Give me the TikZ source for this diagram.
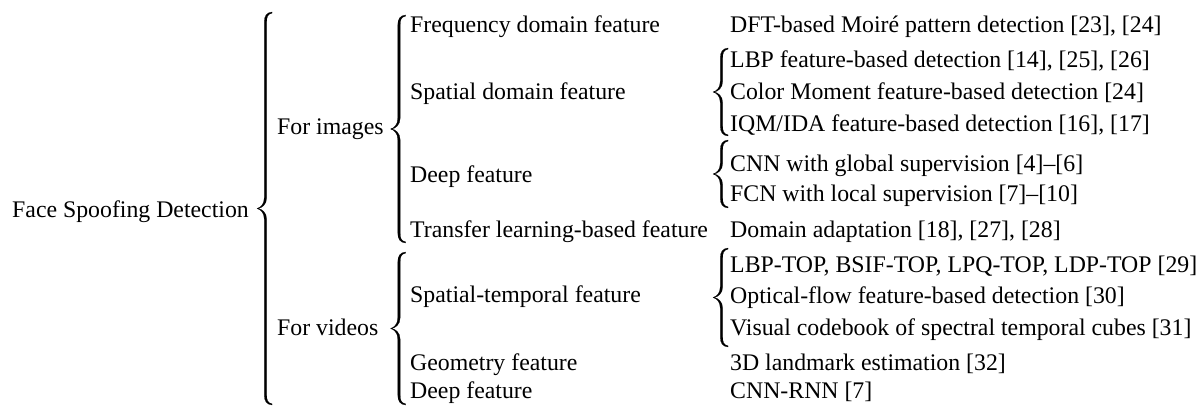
\documentclass[tikz,border=0pt]{standalone}
\usepackage{fontspec}
\setmainfont{Liberation Serif}
\tikzset{
  lbl/.style={anchor=base west, inner sep=0pt, font=\fontsize{23.8}{28}\selectfont},
  brcfill/.style={fill=black, draw=black, line width=0.2pt}
}
% TeX-like curly brace opening to the right; #1 = x of straight part, #2 = top y, #3 = bottom y
\newcommand\texbrace[3]{%
  \pgfmathsetmacro\bxm{#1}\pgfmathsetmacro\byt{#2}\pgfmathsetmacro\byb{#3}%
  \pgfmathsetmacro\bym{(#2+#3)/2}%
  \path[brcfill] (\bxm+6.5,\byt) .. controls (\bxm+1,\byt+0.5) and (\bxm-1.2,\byt+4) .. (\bxm-1.2,\byt+10)
    -- (\bxm-1.2,\bym-11) .. controls (\bxm-1.2,\bym-4) and (\bxm-5,\bym-1) .. (\bxm-8.5,\bym)
    .. controls (\bxm-5,\bym+1) and (\bxm-1.2,\bym+4) .. (\bxm-1.2,\bym+11)
    -- (\bxm-1.2,\byb-10) .. controls (\bxm-1.2,\byb-4) and (\bxm+1,\byb-0.5) .. (\bxm+6.5,\byb)
    -- (\bxm+6.5,\byb-1.2) .. controls (\bxm+2,\byb-2) and (\bxm+1.2,\byb-5) .. (\bxm+1.2,\byb-10)
    -- (\bxm+1.2,\bym+11) .. controls (\bxm+1.2,\bym+4) and (\bxm-3.5,\bym+0.5) .. (\bxm-7.5,\bym)
    .. controls (\bxm-3.5,\bym-0.5) and (\bxm+1.2,\bym-4) .. (\bxm+1.2,\bym-11)
    -- (\bxm+1.2,\byt+10) .. controls (\bxm+1.2,\byt+5) and (\bxm+2,\byt+2) .. (\bxm+6.5,\byt+1.2) -- cycle;%
}
\begin{document}
\begin{tikzpicture}[x=1pt,y=-1pt]
\useasboundingbox (0,0) rectangle (1202,406);
% level 0
\node[lbl] (root) at (12,218) {Face Spoofing Detection};
% level 1
\node[lbl] (img) at (277,135) {For images};
\node[lbl] (vid) at (277,335) {For videos};
% level 2
\node[lbl] (freq) at (410,33) {Frequency domain feature};
\node[lbl] (spat) at (410,100) {Spatial domain feature};
\node[lbl] (deep) at (410,183) {Deep feature};
\node[lbl] (trans) at (410,237) {Transfer learning-based feature};
\node[lbl] (st) at (410,302) {Spatial-temporal feature};
\node[lbl] (geo) at (410,370) {Geometry feature};
\node[lbl] (deepv) at (410,398) {Deep feature};
% level 3
\node[lbl] (dft) at (730,33) {DFT-based Moiré pattern detection [23], [24]};
\node[lbl] (lbp) at (730,68) {LBP feature-based detection [14], [25], [26]};
\node[lbl] (cm) at (730,100) {Color Moment feature-based detection [24]};
\node[lbl] (iqm) at (730,132) {IQM/IDA feature-based detection [16], [17]};
\node[lbl] (cnn) at (730,172) {CNN with global supervision [4]--[6]};
\node[lbl] (fcn) at (730,202) {FCN with local supervision [7]--[10]};
\node[lbl] (da) at (730,237) {Domain adaptation [18], [27], [28]};
\node[lbl] (top) at (730,272) {LBP-TOP, BSIF-TOP, LPQ-TOP, LDP-TOP [29]};
\node[lbl] (of) at (730,303) {Optical-flow feature-based detection [30]};
\node[lbl] (vc) at (730,335) {Visual codebook of spectral temporal cubes [31]};
\node[lbl] (lm) at (730,370) {3D landmark estimation [32]};
\node[lbl] (cr) at (730,398) {CNN-RNN [7]};
% braces
\texbrace{265.5}{12}{405}
\texbrace{399}{15}{243}
\texbrace{399}{252}{405}
\texbrace{721.5}{48}{136}
\texbrace{721.5}{140}{208}
\texbrace{721.5}{248}{347}
\end{tikzpicture}
\end{document}
